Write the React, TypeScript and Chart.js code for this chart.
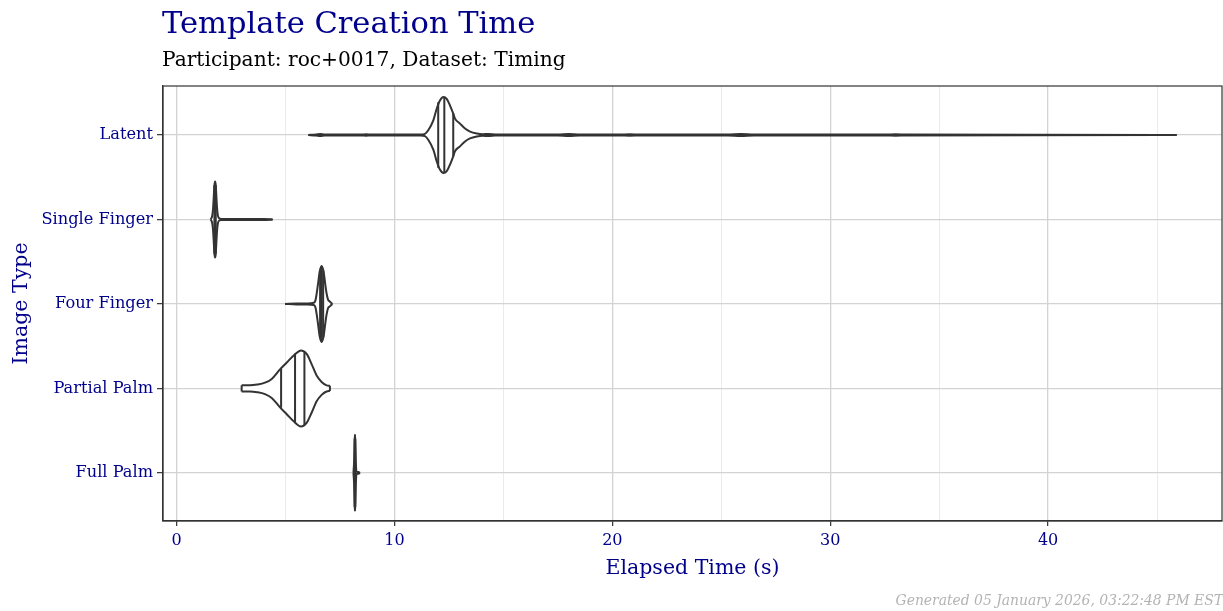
import React, { useEffect, useRef } from "react";
import { Chart, registerables } from "chart.js";

Chart.register(...registerables);

// ---------- data ----------
const categories = ["Latent", "Single Finger", "Four Finger", "Partial Palm", "Full Palm"];

const latentTimes = [6.05, 6.4, 6.6, 6.8, 7.5, 8.5, 8.7, 8.9, 10.5, 11.2, 11.4, 11.56, 11.79, 11.94, 12.09, 12.25, 12.4, 12.55, 12.7, 12.78, 13.01, 13.24, 13.47, 13.78, 14.05, 14.31, 14.62, 15.0, 17.5, 18.0, 18.5, 20.3, 20.8, 21.3, 25.3, 25.9, 26.5, 32.5, 33.0, 33.5, 45.9];
const latentDensity = [0.0, 0.014, 0.026, 0.014, 0.012, 0.012, 0.02, 0.012, 0.012, 0.013, 0.03, 0.13, 0.39, 0.69, 0.91, 1.0, 0.95, 0.78, 0.56, 0.43, 0.3, 0.17, 0.09, 0.04, 0.022, 0.026, 0.016, 0.012, 0.012, 0.026, 0.012, 0.012, 0.018, 0.012, 0.012, 0.024, 0.012, 0.012, 0.018, 0.012, 0.0];
const latentQuartiles = [12.01, 12.29, 12.7];
const latentQuartileDensity = [0.86, 1.0, 0.57];

const singleTimes = [1.57, 1.64, 1.68, 1.71, 1.74, 1.77, 1.8, 1.83, 1.86, 1.9, 1.96, 2.05, 3.0, 4.0, 4.41];
const singleDensity = [0.0, 0.1, 0.3, 0.6, 0.9, 1.0, 0.9, 0.6, 0.3, 0.1, 0.03, 0.015, 0.012, 0.012, 0.0];
const singleQuartiles = [1.74, 1.77, 1.8];
const singleQuartileDensity = [0.9, 1.0, 0.9];

const fourTimes = [4.98, 5.5, 6.0, 6.3, 6.38, 6.44, 6.5, 6.57, 6.66, 6.75, 6.82, 6.88, 6.95, 7.02, 7.08, 7.15];
const fourDensity = [0.0, 0.012, 0.014, 0.03, 0.1, 0.3, 0.55, 0.85, 1.0, 0.85, 0.55, 0.3, 0.12, 0.07, 0.04, 0.0];
const fourQuartiles = [6.59, 6.66, 6.73];
const fourQuartileDensity = [0.88, 1.0, 0.88];

const partialTimes = [2.99, 3.37, 3.7, 4.06, 4.37, 4.75, 5.06, 5.44, 5.71, 5.98, 6.2, 6.43, 6.66, 6.89, 7.04];
const partialDensity = [0.08, 0.08, 0.1, 0.15, 0.25, 0.5, 0.68, 0.9, 1.0, 0.9, 0.64, 0.34, 0.17, 0.08, 0.07];
const partialQuartiles = [4.8, 5.44, 5.87];
const partialQuartileDensity = [0.51, 0.92, 0.97];

const fullTimes = [8.12, 8.15, 8.17, 8.19, 8.21, 8.23, 8.26, 8.35, 8.42];
const fullDensity = [0.0, 0.3, 0.8, 1.0, 0.8, 0.3, 0.025, 0.025, 0.0];
const fullQuartiles = [8.18, 8.19, 8.2];
const fullQuartileDensity = [0.9, 1.0, 0.9];

const xTickValues = [0, 5, 10, 15, 20, 25, 30, 35, 40, 45];

const TITLE = "Template Creation Time";
const SUBTITLE = "Participant: roc+0017, Dataset: Timing";
const X_TITLE = "Elapsed Time (s)";
const Y_TITLE = "Image Type";
const FOOTER = "Generated 05 January 2026, 03:22:48 PM EST";

// ---------- styling ----------
const W = 1223;
const H = 611;
const FONT = '"DejaVu Serif", serif';
const BLUE = "#00008B";
const OUTLINE = "#333333";
const HALF = 0.45;

const violins = [
  { times: latentTimes, density: latentDensity, q: latentQuartiles, qd: latentQuartileDensity },
  { times: singleTimes, density: singleDensity, q: singleQuartiles, qd: singleQuartileDensity },
  { times: fourTimes, density: fourDensity, q: fourQuartiles, qd: fourQuartileDensity },
  { times: partialTimes, density: partialDensity, q: partialQuartiles, qd: partialQuartileDensity },
  { times: fullTimes, density: fullDensity, q: fullQuartiles, qd: fullQuartileDensity },
];

function buildDatasets() {
  const base = {
    borderColor: OUTLINE,
    borderWidth: 2,
    pointRadius: 0,
    pointHoverRadius: 0,
    fill: false,
  };
  const ds: any[] = [];
  violins.forEach((v, idx) => {
    ds.push({
      ...base,
      data: v.times.map((t, i) => ({ x: t, y: idx - v.density[i] * HALF })),
      fill: "+1",
      backgroundColor: "#ffffff",
      cubicInterpolationMode: "monotone",
    });
    ds.push({
      ...base,
      data: v.times.map((t, i) => ({ x: t, y: idx + v.density[i] * HALF })),
      cubicInterpolationMode: "monotone",
    });
    const n = v.times.length;
    [0, n - 1].forEach((i) => {
      if (v.density[i] > 0) {
        ds.push({
          ...base,
          data: [
            { x: v.times[i], y: idx - v.density[i] * HALF },
            { x: v.times[i], y: idx + v.density[i] * HALF },
          ],
        });
      }
    });
    v.q.forEach((q, j) => {
      ds.push({
        ...base,
        data: [
          { x: q, y: idx - v.qd[j] * HALF },
          { x: q, y: idx + v.qd[j] * HALF },
        ],
      });
    });
  });
  return ds;
}

const textPlugin = {
  id: "extraTexts",
  afterDraw(chart: any) {
    const { ctx, chartArea } = chart;
    ctx.save();
    // panel border
    ctx.strokeStyle = OUTLINE;
    ctx.lineWidth = 1.2;
    ctx.strokeRect(chartArea.left, chartArea.top, chartArea.right - chartArea.left, chartArea.bottom - chartArea.top);
    ctx.textAlign = "left";
    ctx.textBaseline = "alphabetic";
    ctx.fillStyle = BLUE;
    ctx.font = `30.5px ${FONT}`;
    ctx.fillText(TITLE, chartArea.left - 1, 33);
    ctx.fillStyle = "#000000";
    ctx.font = `20.2px ${FONT}`;
    ctx.fillText(SUBTITLE, chartArea.left - 1, 66);
    ctx.fillStyle = "#b3b3b3";
    ctx.font = `italic 13.9px ${FONT}`;
    ctx.textAlign = "right";
    ctx.fillText(FOOTER, W, 605);
    ctx.restore();
  },
};

export default function App() {
  const ref = useRef<HTMLCanvasElement>(null);
  useEffect(() => {
    document.body.style.margin = "0";
    const canvas = ref.current;
    if (!canvas) return;
    const chart = new Chart(canvas, {
      type: "line",
      data: { datasets: buildDatasets() },
      options: {
        responsive: false,
        animation: false,
        events: [],
        layout: { padding: { left: 0, right: 1, top: 86, bottom: 0 } },
        plugins: {
          legend: { display: false },
          tooltip: { enabled: false },
          filler: { drawTime: "beforeDatasetsDraw" },
        },
        scales: {
          x: {
            type: "linear",
            min: -0.62,
            max: 47.98,
            afterBuildTicks: (scale: any) => {
              scale.ticks = xTickValues.map((v) => ({ value: v }));
            },
            afterFit: (scale: any) => {
              scale.height = H - 521;
            },
            ticks: {
              autoSkip: false,
              maxRotation: 0,
              color: BLUE,
              font: { family: FONT, size: 16 },
              padding: 5,
              callback: (v: any) => (Number(v) % 10 === 0 ? String(v) : ""),
            },
            grid: {
              color: (c: any) => (c.tick && c.tick.value % 10 === 0 ? "#d3d3d3" : "#ebebeb"),
              lineWidth: (c: any) => (c.tick && c.tick.value % 10 === 0 ? 1.3 : 1),
              tickColor: (c: any) => (c.tick && c.tick.value % 10 === 0 ? OUTLINE : "rgba(0,0,0,0)"),
              tickLength: 5,
              tickWidth: 1.2,
            },
            border: { display: true, color: OUTLINE, width: 1.2 },
            title: {
              display: true,
              text: X_TITLE,
              color: BLUE,
              font: { family: FONT, size: 20.5 },
              padding: { top: 0, bottom: 30 },
            },
          },
          y: {
            type: "linear",
            reverse: true,
            min: -0.58,
            max: 4.57,
            afterBuildTicks: (scale: any) => {
              scale.ticks = categories.map((_, i) => ({ value: i }));
            },
            afterFit: (scale: any) => {
              scale.width = 163;
            },
            ticks: {
              autoSkip: false,
              color: BLUE,
              font: { family: FONT, size: 16.2 },
              padding: 4,
              callback: (v: any) => categories[Number(v)] ?? "",
            },
            grid: {
              color: "#d3d3d3",
              lineWidth: 1.3,
              tickColor: OUTLINE,
              tickLength: 6,
              tickWidth: 1.2,
            },
            border: { display: true, color: OUTLINE, width: 1.2 },
            title: {
              display: true,
              text: Y_TITLE,
              color: BLUE,
              font: { family: FONT, size: 20.5 },
              padding: { top: 9, bottom: 0 },
            },
          },
        },
      } as any,
      plugins: [textPlugin],
    });
    return () => chart.destroy();
  }, []);
  return (
    <div style={{ width: W, height: H, background: "#ffffff" }}>
      <canvas ref={ref} width={W} height={H} style={{ display: "block" }} />
    </div>
  );
}
